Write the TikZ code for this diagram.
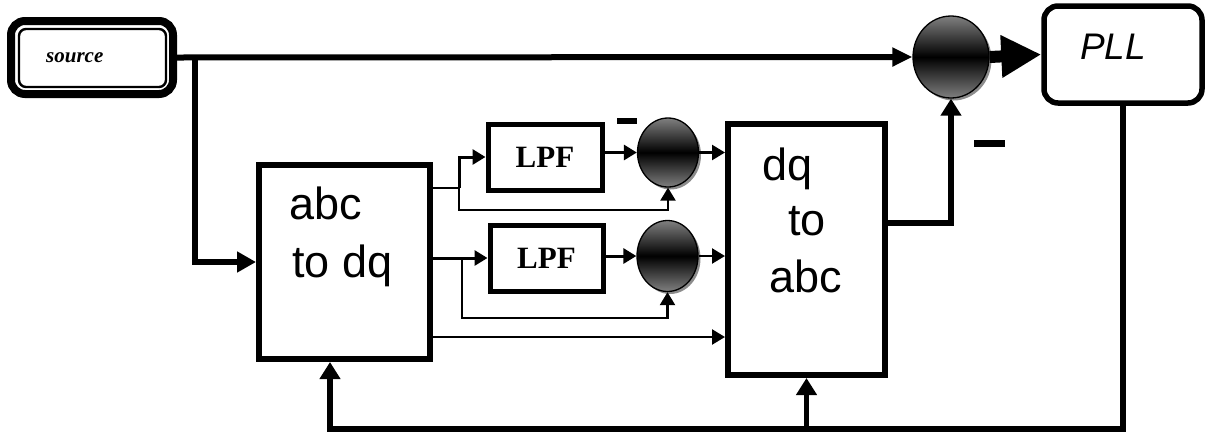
\documentclass[tikz,border=0pt]{standalone}
\usepackage{fontspec}
\setmainfont{Liberation Serif}
\newfontfamily\plainsans{Liberation Sans}
\usetikzlibrary{arrows.meta,shapes.geometric,shadows,calc}

\tikzset{
  blk/.style={draw, line width=6pt, inner sep=0pt},
  lpfbox/.style={draw, line width=5pt, inner sep=0pt, minimum width=114pt, minimum height=66pt,
    font=\fontsize{31}{33}\selectfont\bfseries},
  sumball/.style={ellipse, draw, line width=1.3pt, inner sep=0pt,
    top color=black!50, bottom color=black!50, middle color=black,
    drop shadow={shadow xshift=2.5pt, shadow yshift=-2.5pt, fill=black!45, opacity=1}},
  bigtxt/.style={inner sep=0pt, font=\plainsans\fontsize{45}{50}\selectfont},
  thinwire/.style={line width=2.4pt},
  midwire/.style={line width=3pt},
  thickwire/.style={line width=6pt},
  fbwire/.style={line width=5.5pt},
  tipS/.style={-{Triangle[length=13pt,width=15pt]}},
  tipL/.style={-{Triangle[length=19pt,width=20pt]}},
  tipF/.style={-{Triangle[length=17pt,width=20pt]}},
  minusbar/.style={inner sep=0pt},
}

\begin{document}
\begin{tikzpicture}[x=1pt, y=-1pt]
\useasboundingbox (0,0) rectangle (1208,432);

% blocks
\node[draw, line width=8pt, rounded corners=14pt, minimum width=162pt, minimum height=73pt, inner sep=0pt]
  (src) at (92,57.5) {};
\draw[line width=2.4pt, rounded corners=7pt] ($(src.north west)+(12,12)$) rectangle ($(src.south east)+(-11,-11)$);
\node[inner sep=0pt, anchor=base west, font=\fontsize{21}{23}\selectfont\bfseries\itshape] (srctxt) at (46,62) {source};

\node[blk, minimum width=171pt, minimum height=194pt] (abc) at (344.5,262) {};
\node[bigtxt, anchor=base west] (abcA) at (289,219) {abc};
\node[bigtxt, anchor=base west] (abcB) at (292,277) {to dq};

\node[lpfbox] (lpf1) at (545,157) {LPF};
\node[lpfbox, minimum width=113pt] (lpf2) at (546.5,258) {LPF};

\node[sumball, minimum width=61pt, minimum height=69pt] (c1) at (668,152.5) {};
\node[sumball, minimum width=61pt, minimum height=71pt] (c2) at (667.5,256) {};

\node[blk, minimum width=157pt, minimum height=251pt] (dq) at (806.5,249.5) {};
\node[bigtxt, anchor=base west] (dqA) at (762,180) {dq};
\node[bigtxt, anchor=base west] (dqB) at (788,235) {to};
\node[bigtxt, anchor=base west] (dqC) at (769,292) {abc};

\node[sumball, minimum width=76pt, minimum height=82pt] (sum) at (951,57) {};

\node[draw, line width=5.5pt, rounded corners=14pt, minimum width=158pt, minimum height=97pt, inner sep=0pt]
  (pll) at (1123,54.5) {};
\node[inner sep=0pt, anchor=base west, font=\plainsans\itshape\fontsize{37}{40}\selectfont] (plltxt) at (1080,59) {PLL};

% minus signs
\node[minusbar] (m1) at (627,121) {\rule{20pt}{6pt}};
\node[minusbar] (m2) at (989,143) {\rule{31pt}{7pt}};

% source line and branch into abc-to-dq
\coordinate (br) at (195,57);
\draw[thickwire, -{Triangle[length=20pt,width=18pt]}] (src.east) -- (sum.west);
\draw[thickwire, tipL] (br) |- (abc.west);

% upper channel
\coordinate (b1) at (459,188);
\coordinate (b1d) at (459,210);
\draw[thinwire] (abc.east |- b1) -- (b1);
\draw[midwire, tipS] (b1) |- (lpf1.west);
\draw[thinwire, tipS] (b1) -- (b1d) -| (c1.south);
\draw[midwire, tipS] (lpf1.east |- c1.west) -- (c1.west);
\draw[thinwire, tipS] (c1.east) -- (c1.east -| dq.west);

% lower channel
\coordinate (b2) at (462,258);
\coordinate (b2d) at (462,318);
\draw[midwire, tipS] (abc.east |- lpf2.west) -- (lpf2.west);
\draw[thinwire, tipS] (b2) -- (b2d) -| (c2.south);
\draw[midwire, tipS] (lpf2.east |- c2.west) -- (c2.west);
\draw[thinwire, tipS] (c2.east) -- (c2.east -| dq.west);

% third output straight across
\coordinate (o3) at (430,337);
\draw[thinwire, tipS] (abc.east |- o3) -- (o3 -| dq.west);

% dq-to-abc output into the summing junction
\coordinate (d1) at (885,223);
\draw[fbwire, tipF] (dq.east |- d1) -| (sum.south);

% summing junction into PLL
\draw[line width=12pt, -{Triangle[length=40pt,width=40pt]}] (sum.east) -- (pll.west);

% feedback from PLL
\coordinate (fb) at (330,429);
\draw[fbwire, tipF] (pll.south) |- (fb) -- (fb |- abc.south);
\draw[fbwire, tipF] (dq.south |- fb) -- (dq.south);
\end{tikzpicture}
\end{document}
